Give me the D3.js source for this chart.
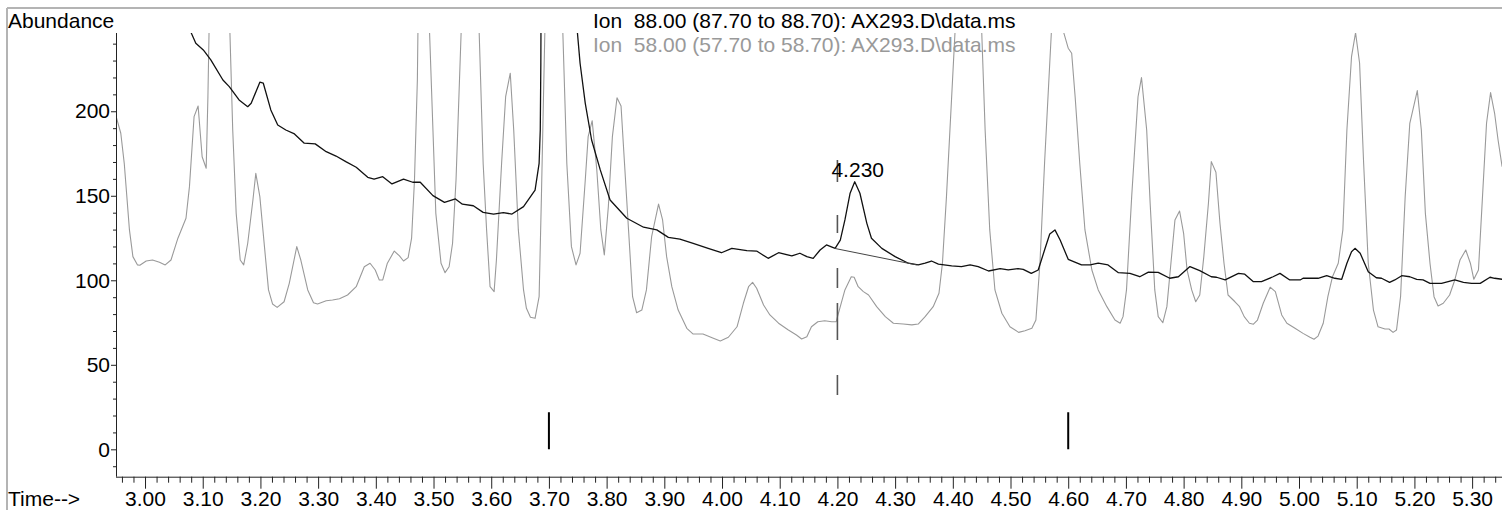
<!DOCTYPE html>
<html><head><meta charset="utf-8">
<script src="https://cdn.jsdelivr.net/npm/d3@7"></script>
<style>
body{margin:0;background:#fff;}
svg{display:block;font-family:"Liberation Sans",Arial,sans-serif;}
</style>
</head><body>
<svg id="c" width="1502" height="510"></svg>
<script>
// ---- data ----
const ion88Time = [2.95,3.00,3.04,3.06,3.075,3.080,3.088,3.101,3.114,3.135,3.146,3.163,3.178,3.184,3.199,3.205,3.218,3.230,3.244,3.259,3.276,3.295,3.314,3.331,3.348,3.366,3.386,3.397,3.412,3.428,3.448,3.464,3.477,3.499,3.519,3.538,3.550,3.569,3.586,3.604,3.621,3.636,3.656,3.676,3.683,3.685,3.686,3.690,3.695,3.700,3.710,3.720,3.730,3.740,3.749,3.754,3.763,3.774,3.789,3.806,3.835,3.864,3.887,3.907,3.927,3.950,3.976,3.999,4.017,4.043,4.060,4.080,4.098,4.121,4.135,4.147,4.158,4.170,4.181,4.196,4.205,4.213,4.222,4.230,4.239,4.251,4.259,4.277,4.300,4.323,4.340,4.352,4.363,4.375,4.398,4.415,4.430,4.444,4.462,4.482,4.496,4.513,4.522,4.536,4.548,4.559,4.568,4.577,4.586,4.600,4.623,4.638,4.652,4.669,4.687,4.707,4.724,4.739,4.756,4.776,4.791,4.811,4.828,4.848,4.857,4.872,4.895,4.906,4.921,4.935,4.955,4.967,4.984,5.002,5.007,5.033,5.048,5.062,5.074,5.083,5.091,5.097,5.106,5.120,5.134,5.143,5.157,5.166,5.178,5.192,5.204,5.215,5.227,5.247,5.270,5.285,5.299,5.314,5.331,5.339,5.352];
const ion88Abund = [330,300,275,262,252,246.4,240.2,236.3,230.4,218.5,214.6,206.7,202.7,204.7,217.2,216.6,200.8,191.9,188.9,186.6,181.1,180.7,176.1,173.5,170.2,166.9,160.9,159.9,161.3,157.0,159.9,158.0,158.0,150.1,146.1,148.1,145.0,144.1,140.2,139.2,140.0,139.2,143.6,153.4,169.2,188.9,228.4,600,1500,2000,900,500,350,285,248,228.4,204.7,183.0,165.3,147.5,136.7,131.4,129.8,125.4,124.4,121.9,118.9,116.3,118.9,117.5,117.3,113.0,116.3,114.4,116.0,114.0,113.0,117.9,120.9,118.9,123.8,135.7,151.5,158.3,151.5,133.7,124.9,118.9,114.0,110.1,109.1,110.1,111.4,109.6,108.5,108.1,109.1,108.1,105.5,106.9,106.1,106.9,106.5,104.1,106.1,117.9,127.4,129.8,123.8,112.4,109.1,109.1,110.1,109.1,104.5,104.1,102.1,104.8,104.7,101.2,102.1,108.1,105.7,102.1,101.8,100.2,104.1,103.6,99.2,99.2,102.1,104.1,100.2,100.2,101.2,101.2,102.7,101.2,100.6,110.1,116.9,118.9,116.0,105.1,101.5,101.2,98.8,100.2,102.7,102.1,100.6,100.2,98.2,98.2,100.2,98.8,98.2,98.2,101.8,101.2,100.6];

const ion58Time = [2.950,2.958,2.964,2.973,2.979,2.987,2.991,3.002,3.013,3.025,3.035,3.045,3.057,3.071,3.077,3.085,3.092,3.099,3.106,3.109,3.129,3.147,3.152,3.158,3.165,3.171,3.178,3.187,3.192,3.199,3.207,3.214,3.221,3.229,3.241,3.250,3.263,3.270,3.282,3.292,3.299,3.314,3.325,3.337,3.351,3.366,3.380,3.390,3.399,3.406,3.412,3.420,3.432,3.441,3.448,3.456,3.462,3.467,3.472,3.485,3.493,3.499,3.504,3.513,3.520,3.527,3.533,3.539,3.548,3.563,3.579,3.586,3.592,3.598,3.605,3.609,3.618,3.625,3.633,3.639,3.647,3.656,3.661,3.668,3.676,3.683,3.687,3.693,3.709,3.724,3.731,3.739,3.747,3.754,3.763,3.768,3.775,3.783,3.790,3.796,3.803,3.810,3.818,3.825,3.831,3.838,3.845,3.852,3.861,3.869,3.878,3.890,3.897,3.904,3.913,3.924,3.939,3.950,3.967,3.985,3.997,4.011,4.026,4.037,4.046,4.053,4.060,4.072,4.083,4.098,4.115,4.129,4.138,4.147,4.155,4.166,4.178,4.190,4.198,4.201,4.213,4.224,4.229,4.236,4.245,4.254,4.268,4.283,4.297,4.314,4.329,4.340,4.352,4.366,4.376,4.382,4.389,4.398,4.404,4.427,4.450,4.456,4.464,4.473,4.485,4.499,4.514,4.525,4.537,4.544,4.551,4.559,4.568,4.571,4.581,4.591,4.600,4.606,4.612,4.620,4.629,4.641,4.652,4.667,4.681,4.690,4.695,4.701,4.710,4.721,4.727,4.736,4.742,4.750,4.756,4.764,4.771,4.778,4.785,4.793,4.800,4.806,4.814,4.821,4.828,4.835,4.843,4.848,4.856,4.863,4.870,4.877,4.889,4.897,4.905,4.914,4.921,4.928,4.938,4.950,4.959,4.970,4.979,4.993,5.007,5.019,5.026,5.033,5.042,5.050,5.058,5.068,5.076,5.083,5.091,5.098,5.105,5.112,5.120,5.129,5.137,5.149,5.156,5.163,5.169,5.176,5.184,5.192,5.205,5.212,5.219,5.227,5.234,5.241,5.250,5.261,5.270,5.279,5.289,5.297,5.303,5.311,5.318,5.325,5.332,5.339,5.345,5.352];
const ion58Abund = [196.8,187.0,169.2,129.8,114.0,109.1,108.9,111.4,112.0,110.7,109.1,112.0,124.9,136.7,155.4,196.8,203.1,173.1,166.3,208.6,600,248,188.9,139.6,112.0,109.1,121.9,147.5,163.3,149.5,119.9,94.3,86.0,84.0,87.3,98.2,119.9,112.0,94.3,86.7,86.0,87.9,88.3,89.1,91.3,96.2,108.0,110.1,106.1,100.2,100.2,110.1,117.3,114.4,111.4,113.4,124.9,159.3,218.5,600,248,188.9,139.6,110.1,104.5,108.0,121.9,159.3,248,600,248,169.2,129.8,96.2,93.3,112.0,169.2,208.6,222.5,188.9,129.8,94.3,83.4,78.1,77.5,90.3,149.5,248,600,248,169.2,119.9,109.1,116.0,159.3,185.0,194.4,165.3,129.8,115.0,143.6,185.0,208.0,203.1,169.2,129.8,90.3,80.8,82.4,94.3,125.8,145.1,135.7,114.0,96.2,82.4,71.6,68.2,68.2,65.7,64.1,66.3,72.5,86.4,96.2,98.8,95.3,85.4,79.5,74.6,70.6,67.6,65.3,66.6,72.5,75.5,76.1,75.5,75.5,79.5,94.3,102.1,101.8,96.2,93.3,91.3,84.4,78.5,74.6,74.1,73.6,74.1,78.5,84.4,92.3,110.1,149.5,208.6,248,600,248,188.9,129.8,94.3,80.5,72.5,69.2,70.2,71.6,76.5,110.1,169.2,228.4,248,400,248,237.3,234.3,208.6,169.2,129.8,106.1,94.3,84.4,76.5,74.6,78.5,94.3,149.5,208.6,219.9,188.9,145.6,94.3,78.5,74.9,84.4,110.1,135.7,141.0,127.8,106.1,94.3,87.3,91.3,114.0,145.6,170.2,163.9,133.7,110.1,91.3,87.3,84.4,78.5,74.6,74.0,76.5,86.4,95.9,93.3,79.5,74.6,71.6,68.6,66.3,65.1,67.0,74.6,90.3,102.1,110.1,129.8,188.9,232.3,246.5,228.4,169.2,110.1,82.4,72.5,71.2,71.2,69.2,70.6,90.3,149.5,192.9,212.2,188.9,139.6,110.1,90.3,84.8,86.4,91.3,100.2,112.0,117.9,110.1,100.6,106.1,149.5,192.9,211.0,198.8,183.0,167.2];

const xTickValues = [3.00,3.10,3.20,3.30,3.40,3.50,3.60,3.70,3.80,3.90,4.00,4.10,4.20,4.30,4.40,4.50,4.60,4.70,4.80,4.90,5.00,5.10,5.20,5.30];
const yTickValues = [0,50,100,150,200];
const legendLines = ["Ion  88.00 (87.70 to 88.70): AX293.D\\data.ms","Ion  58.00 (57.70 to 58.70): AX293.D\\data.ms"];
const peakLabel = {time:4.230, text:"4.230", abund:158.3};
const eventMarks = [3.70, 4.60];
const expectedRT = 4.20;
const baselineSeg = [{t:4.1946,v:118.9},{t:4.3373,v:109.1}];

// ---- layout ----
const svg = d3.select("#c");
const FS = 21;
const L = 116, R = 1502, T = 33, B = 476.7;
const x = d3.scaleLinear().domain([2.9497, 5.3518]).range([L, R]);
const y = d3.scaleLinear().domain([-16.2, 246.3]).range([B, T]);

// frame
svg.append("line").attr("x1",7).attr("x2",1502).attr("y1",8).attr("y2",8).attr("stroke","#b4b4b4").attr("stroke-width",2);
svg.append("line").attr("x1",7).attr("x2",7).attr("y1",8).attr("y2",510).attr("stroke","#b4b4b4").attr("stroke-width",2);

svg.append("clipPath").attr("id","clip").append("rect").attr("x",L).attr("y",T).attr("width",R-L).attr("height",B-T);

const plot = svg.append("g").attr("clip-path","url(#clip)");
const line = d3.line().x(d=>x(d[0])).y(d=>y(d[1]));

const d58 = ion58Time.map((t,i)=>[t, ion58Abund[i]]);
const d88 = ion88Time.map((t,i)=>[t, ion88Abund[i]]);

plot.append("path").datum(d58).attr("d",line).attr("fill","none").attr("stroke","#9a9a9a").attr("stroke-width",1.1).attr("stroke-linejoin","round");
plot.append("path").datum(d88).attr("d",line).attr("fill","none").attr("stroke","#111").attr("stroke-width",1.3).attr("stroke-linejoin","round");

// integration baseline
plot.append("line")
  .attr("x1",x(baselineSeg[0].t)).attr("y1",y(baselineSeg[0].v))
  .attr("x2",x(baselineSeg[1].t)).attr("y2",y(baselineSeg[1].v))
  .attr("stroke","#444").attr("stroke-width",1);

// expected RT dashed marker
plot.append("line")
  .attr("x1",x(expectedRT)).attr("x2",x(expectedRT))
  .attr("y1",y(171.2)).attr("y2",y(32.1))
  .attr("stroke","#555").attr("stroke-width",1.6)
  .attr("stroke-dasharray","22,33,18,35,20,15,37,35,20");

// event markers
plot.selectAll("line.ev").data(eventMarks).join("line").attr("class","ev")
  .attr("x1",d=>x(d)).attr("x2",d=>x(d)).attr("y1",y(0)).attr("y2",y(22))
  .attr("stroke","#000").attr("stroke-width",2);

// peak label
svg.append("text").attr("x",x(peakLabel.time)+3).attr("y",177)
  .attr("text-anchor","middle").attr("font-size",FS).attr("fill","#000").text(peakLabel.text);

// axes
const gx = svg.append("g").attr("transform",`translate(0,${B})`);
gx.call(d3.axisBottom(x).tickValues(d3.range(2.96,5.352,0.02).filter(v=>Math.abs(v*10-Math.round(v*10))>0.01)).tickSize(6).tickSizeOuter(0).tickFormat(""));
gx.call(g=>g.select(".domain").remove());
const gx2 = svg.append("g").attr("transform",`translate(0,${B})`);
gx2.call(d3.axisBottom(x).tickValues(xTickValues).tickSize(12).tickSizeOuter(0).tickPadding(2).tickFormat(d3.format(".2f")));
gx2.selectAll("text").attr("font-size",FS).attr("font-family","Liberation Sans, Arial, sans-serif").attr("fill","#000");
gx2.select(".domain").attr("d",`M${L},0.5H${R}`);

const gy = svg.append("g").attr("transform",`translate(${L},0)`);
gy.call(d3.axisLeft(y).tickValues(d3.range(-10,250,10).filter(v=>v%50!==0)).tickSize(3).tickSizeOuter(0).tickFormat(""));
gy.call(g=>g.select(".domain").remove());
const gy2 = svg.append("g").attr("transform",`translate(${L},0)`);
gy2.call(d3.axisLeft(y).tickValues(yTickValues).tickSize(5).tickSizeOuter(0).tickPadding(1));
gy2.selectAll("text").attr("font-size",FS).attr("font-family","Liberation Sans, Arial, sans-serif").attr("fill","#000");
gy2.select(".domain").attr("d",`M0.5,${T}V${B}`);
svg.selectAll(".tick line").attr("stroke","#222");
svg.selectAll(".domain").attr("stroke","#222");

// titles
svg.append("text").attr("x",8).attr("y",28).attr("font-size",FS).attr("fill","#000").text("Abundance");
svg.append("text").attr("x",8).attr("y",505.5).attr("font-size",FS).attr("fill","#000").text("Time-->");
svg.selectAll("text.leg").data(legendLines).join("text").attr("class","leg")
  .attr("x",593).attr("y",(d,i)=>28+i*24).attr("font-size",FS)
  .attr("fill",(d,i)=>i===0?"#000":"#999").style("white-space","pre").text(d=>d);
</script>
</body></html>
